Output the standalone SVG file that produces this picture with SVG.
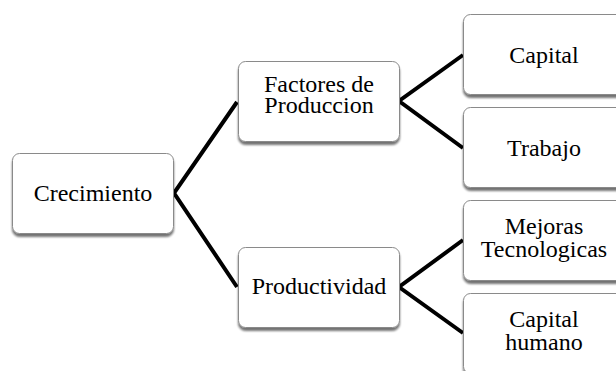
<svg xmlns="http://www.w3.org/2000/svg" width="616" height="371" viewBox="0 0 616 371">
<style>
.box{fill:#fff;stroke:#8a8a8a;stroke-width:1;filter:url(#sh)}
.t{font-family:"Liberation Serif","Times New Roman",serif;font-size:24px;fill:#000;text-anchor:middle}
.c{stroke:#000;stroke-width:4;fill:none;stroke-linejoin:miter}
</style>
<defs>
<filter id="sh" x="-10%" y="-10%" width="120%" height="130%">
<feGaussianBlur in="SourceAlpha" stdDeviation="1.3"/>
<feOffset dx="0" dy="2.5" result="b"/>
<feComponentTransfer><feFuncA type="linear" slope="0.55"/></feComponentTransfer>
<feMerge><feMergeNode/><feMergeNode in="SourceGraphic"/></feMerge>
</filter>
</defs>
<rect width="616" height="371" fill="#fff"/>
<g id="connectors">
<polyline class="c" points="237,102 174,193 237,287"/>
<polyline class="c" points="463,55 399,101 463,148"/>
<polyline class="c" points="463,240 399,287 463,333"/>
</g>
<g id="crecimiento">
<rect class="box" x="12.5" y="153.5" width="161" height="80" rx="7"/>
<text class="t" x="93" y="201">Crecimiento</text>
</g>
<g id="factores">
<rect class="box" x="238.5" y="61.5" width="161" height="80" rx="7"/>
<text class="t" x="319" y="92">Factores de</text>
<text class="t" x="319" y="113">Produccion</text>
</g>
<g id="productividad">
<rect class="box" x="238.5" y="247.5" width="161" height="80" rx="7"/>
<text class="t" x="319" y="294">Productividad</text>
</g>
<g id="capital">
<rect class="box" x="463.5" y="14.5" width="162" height="80" rx="7"/>
<text class="t" x="544" y="63">Capital</text>
</g>
<g id="trabajo">
<rect class="box" x="463.5" y="107.5" width="162" height="80" rx="7"/>
<text class="t" x="544" y="156">Trabajo</text>
</g>
<g id="mejoras">
<rect class="box" x="463.5" y="200.5" width="162" height="80" rx="7"/>
<text class="t" x="544" y="234">Mejoras</text>
<text class="t" x="544" y="256.5">Tecnologicas</text>
</g>
<g id="capital-humano">
<rect class="box" x="463.5" y="293.5" width="162" height="80" rx="7"/>
<text class="t" x="544" y="327">Capital</text>
<text class="t" x="544" y="349.5">humano</text>
</g>
</svg>
